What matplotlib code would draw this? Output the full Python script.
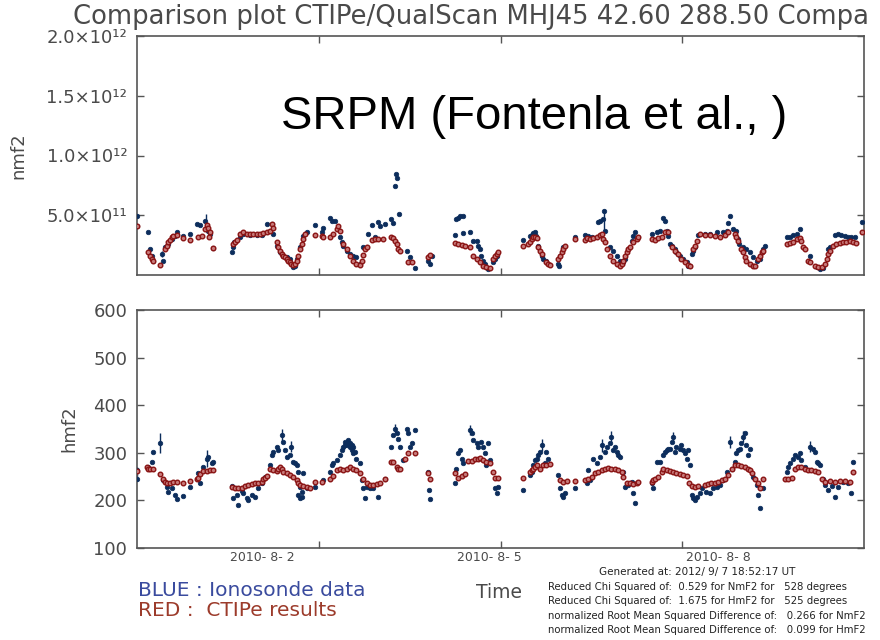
import numpy as np
import matplotlib
matplotlib.use("Agg")
import matplotlib.pyplot as plt

# ---------------------------------------------------------------- data
# time axis: hours since start of the comparison window
t_span = (0, 264)
frame_ticks = [66, 132, 198]
date_label_pos = [45.4, 127.8, 211.0]
date_labels = ["2010- 8- 2", "2010- 8- 5", "2010- 8- 8"]

nmf2_ticks = [5.0e11, 1.0e12, 1.5e12, 2.0e12]
nmf2_ticklabels = ["5.0×10¹¹", "1.0×10¹²", "1.5×10¹²", "2.0×10¹²"]
hmf2_ticks = [100, 200, 300, 400, 500, 600]

# NmF2 in units of 1e11 el/m^3 : (hour, value)
nmf2_ionosonde = [
    (0.1, 4.94), (0.1, 4.11), (4.1, 3.61), (4.7, 2.17), (5.3, 1.61), (5.9, 1.19), (9.0, 1.75), (9.6, 1.19),
    (10.2, 2.31), (11.4, 2.58), (12.6, 3.0), (13.8, 3.28), (14.4, 3.56), (16.8, 3.28), (19.2, 3.42),
    (21.7, 4.25), (22.9, 4.17), (24.7, 4.53), (25.3, 3.83), (25.9, 3.69), (26.5, 3.42), (27.7, 2.22),
    (34.4, 1.89), (35.0, 2.31), (35.2, 2.72), (37.4, 3.22), (38.6, 3.42), (41.0, 3.33), (43.4, 3.33),
    (45.3, 3.33), (47.1, 4.25), (49.2, 4.25), (49.5, 3.42),
    (50.7, 2.44), (51.9, 1.89), (53.1, 1.61), (54.3, 1.47), (55.5, 1.33), (56.7, 0.64), (57.4, 0.78),
    (58.0, 1.33), (59.2, 2.31), (60.4, 3.28), (61.6, 3.56),
    (64.6, 4.17), (67.6, 3.97), (67.0, 3.56), (70.1, 4.81), (70.7, 4.53), (71.9, 4.53), (73.7, 3.14), (74.3, 2.72),
    (74.9, 2.44), (76.1, 2.03), (77.3, 1.75), (78.5, 1.61), (79.7, 1.47), (80.9, 0.92), (82.2, 2.31), (83.4, 2.31),
    (84.0, 3.42), (85.2, 4.17), (86.4, 3.22), (87.6, 4.44), (88.2, 4.11), (90.0, 4.25), (92.4, 4.67), (93.0, 4.39),
    (93.7, 7.44), (94.3, 8.14), (93.9, 8.42), (95.2, 5.08),
    (97.9, 2.03), (99.1, 1.47), (100.9, 0.56),
    (105.8, 1.19), (106.4, 0.92), (107.0, 1.61),
    (116.0, 4.67), (116.6, 4.81), (117.2, 4.94), (118.5, 4.94), (115.4, 3.33), (118.5, 3.5), (120.9, 3.56),
    (122.1, 2.86), (123.3, 2.86), (123.9, 2.44), (124.5, 2.17), (125.1, 1.61), (125.7, 1.19), (126.3, 0.92),
    (126.9, 0.64), (127.5, 0.5), (129.3, 1.06), (130.0, 1.33), (130.6, 1.61),
    (140.3, 2.94), (142.7, 3.28), (143.3, 3.33), (143.9, 3.5), (144.5, 3.56), (144.9, 3.28), (145.7, 2.44),
    (146.9, 1.61), (147.5, 1.33), (148.7, 1.19), (153.0, 0.92), (153.3, 0.72), (153.6, 1.61), (154.8, 2.31),
    (159.0, 3.14), (162.7, 3.33), (163.9, 3.28), (165.1, 3.14), (167.5, 4.44), (168.1, 4.53), (169.3, 4.67),
    (169.6, 5.36), (169.9, 3.69),
    (171.7, 2.31), (172.9, 2.03), (174.2, 1.61), (175.4, 1.19), (176.6, 1.06), (177.2, 1.33), (178.4, 2.17),
    (179.6, 2.86), (180.2, 3.28), (180.8, 3.56), (182.0, 3.14),
    (186.9, 3.42), (188.7, 3.56), (189.9, 3.69), (191.1, 4.81), (191.7, 4.53), (192.3, 3.69), (192.9, 3.28),
    (193.5, 2.58), (194.1, 2.44), (195.3, 2.17), (195.9, 1.89), (197.1, 1.61), (198.4, 1.33), (199.6, 1.06),
    (200.2, 0.78), (200.8, 0.78), (201.4, 1.75), (202.0, 2.03), (202.6, 2.31), (203.8, 3.33),
    (206.2, 3.42), (208.0, 3.42), (210.5, 3.56), (212.9, 3.61), (214.1, 3.69), (214.7, 4.39), (215.3, 4.94),
    (216.5, 3.83), (217.7, 3.69), (218.3, 3.0), (218.7, 2.58),
    (220.1, 2.31), (221.3, 2.17), (222.6, 1.89), (223.8, 1.47), (225.0, 1.19), (226.2, 1.33), (227.4, 2.17),
    (228.0, 2.39),
    (235.9, 3.22), (237.1, 3.22), (238.3, 3.33), (239.5, 3.42), (240.7, 3.83), (244.3, 1.61),
    (246.8, 0.64), (248.0, 0.5), (249.2, 0.56), (251.0, 2.17), (251.6, 2.31), (253.4, 3.33), (254.6, 3.42),
    (255.8, 3.33), (257.0, 3.28), (258.2, 3.22), (259.4, 3.14), (260.6, 3.14), (263.1, 4.44),
]

nmf2_ctipe = [
    (0.1, 4.11), (4.1, 1.89), (4.7, 1.61), (5.3, 1.33), (5.9, 1.19), (8.3, 0.83), (10.2, 2.17), (10.8, 2.44),
    (11.4, 2.72), (12.0, 2.94), (12.6, 3.14), (13.2, 3.28), (14.4, 3.33), (16.8, 3.06), (19.2, 2.94),
    (22.3, 3.14), (23.5, 3.28), (24.7, 3.83), (25.3, 4.17), (25.9, 3.97), (26.5, 3.56), (26.3, 3.22), (27.7, 2.22),
    (35.0, 2.58), (35.6, 2.78), (36.2, 2.94), (37.4, 3.42), (38.6, 3.56), (39.8, 3.42), (41.0, 3.42),
    (42.2, 3.42), (43.4, 3.42), (44.6, 3.42), (45.9, 3.5), (47.1, 3.56), (48.3, 3.69), (48.9, 4.25), (49.5, 3.97),
    (50.7, 2.72), (51.3, 2.31), (51.9, 2.03), (52.5, 1.75), (53.1, 1.61), (53.7, 1.47), (54.3, 1.33),
    (54.9, 1.19), (55.5, 1.06), (56.1, 0.92), (56.7, 0.83), (57.4, 0.92), (58.0, 1.19), (58.6, 1.61),
    (59.2, 2.17), (59.8, 2.58), (60.4, 3.0), (61.0, 3.42),
    (64.6, 3.33), (67.0, 3.28), (67.6, 3.14),
    (70.1, 3.22), (71.3, 3.42), (72.5, 3.83), (73.1, 4.11), (73.7, 3.69),
    (74.9, 2.58), (76.1, 2.17), (77.3, 1.61), (78.5, 1.19), (79.7, 0.92), (80.9, 0.83), (81.6, 1.19),
    (82.2, 1.67), (82.8, 2.17), (83.4, 2.31),
    (85.2, 2.94), (86.4, 3.0), (87.6, 3.0), (89.4, 3.0), (92.4, 3.14), (93.0, 3.06), (93.7, 2.86), (94.3, 2.58),
    (94.9, 2.17), (95.5, 2.03), (98.5, 1.11), (99.7, 1.06), (105.8, 1.47), (106.4, 1.67),
    (115.4, 2.67), (116.6, 2.58), (117.9, 2.5), (119.1, 2.44), (120.9, 2.31), (122.1, 1.61), (123.3, 1.33),
    (124.5, 1.06), (125.7, 0.78), (126.9, 0.64), (128.1, 0.56),
    (129.3, 1.33), (130.0, 1.61), (130.6, 1.75), (131.2, 1.89),
    (140.3, 2.44), (142.1, 2.58), (142.7, 2.78), (143.3, 3.0), (143.9, 3.14), (144.5, 3.22), (145.1, 3.06),
    (145.7, 2.31), (146.3, 2.03), (146.9, 1.75), (148.7, 1.06), (149.3, 0.92), (149.9, 0.83),
    (153.0, 1.33), (153.6, 1.61), (154.2, 1.89), (154.8, 2.17), (155.4, 2.39),
    (159.0, 3.0), (162.7, 2.94), (163.3, 3.06), (164.5, 3.0), (165.7, 3.06), (166.9, 3.14), (168.1, 3.33),
    (168.7, 3.42), (169.3, 3.0), (169.9, 2.72), (170.5, 2.17),
    (171.7, 1.61), (172.9, 1.19), (174.2, 0.92), (175.4, 0.78), (176.0, 0.92), (176.6, 1.19), (177.2, 1.61),
    (177.8, 1.89), (178.4, 2.17), (179.0, 2.31), (180.2, 2.72), (181.4, 3.0), (182.0, 3.14),
    (186.9, 3.0), (188.1, 2.94), (189.3, 3.06), (190.5, 3.22), (191.7, 3.56), (192.9, 3.61),
    (194.1, 2.31), (195.3, 2.03), (196.5, 1.75), (197.7, 1.33), (199.0, 1.06), (200.2, 0.83), (200.8, 0.78),
    (202.0, 2.17), (202.6, 2.39), (203.2, 2.86), (204.4, 3.42),
    (206.2, 3.33), (208.0, 3.33), (209.8, 3.28), (211.7, 3.22), (213.5, 3.33), (214.7, 3.56),
    (217.1, 3.42), (217.7, 3.22), (218.3, 2.86),
    (219.5, 2.17), (220.1, 1.89), (220.7, 1.47), (221.3, 1.19), (222.6, 0.92), (223.8, 0.78), (224.4, 0.78),
    (225.6, 1.33), (226.2, 1.61), (226.8, 1.89), (227.4, 2.03),
    (235.9, 2.58), (237.1, 2.67), (238.3, 2.78), (239.5, 3.0), (240.7, 3.06), (241.3, 2.86), (241.9, 2.31),
    (242.5, 2.17), (243.7, 1.19), (244.3, 1.06),
    (246.2, 0.78), (247.4, 0.64), (248.6, 0.64), (249.8, 0.92), (250.4, 1.33), (251.0, 1.75), (251.6, 2.03),
    (252.8, 2.44), (254.0, 2.58), (255.2, 2.67), (256.4, 2.72), (257.6, 2.78), (258.8, 2.86), (260.0, 2.78),
    (261.2, 2.67), (263.1, 3.56),
]

# (hour, value, half-width) of the larger ionosonde error bars, 1e11 el/m^3
nmf2_ionosonde_err = [(9.0, 1.75, 0.25), (25.0, 4.45, 0.65), (169.6, 4.6, 0.95)]

# hmF2 in km : (hour, value)
hmf2_ionosonde = [
    (0.1, 264), (0.1, 246), (4.1, 271), (5.3, 281), (5.9, 302), (8.3, 320), (9.6, 243), (10.8, 229),
    (11.4, 218), (12.6, 225), (13.8, 211), (14.4, 202), (16.8, 210), (19.2, 229),
    (22.3, 257), (22.9, 236), (24.1, 271), (25.3, 288), (25.9, 292), (27.1, 278), (27.7, 281),
    (34.4, 230), (35.0, 204), (36.2, 211), (36.8, 190), (38.0, 220), (38.6, 215), (39.8, 206), (40.4, 201),
    (41.6, 211), (42.8, 208), (44.0, 225), (45.3, 236), (46.5, 250),
    (48.3, 274), (48.9, 295), (49.5, 302), (50.7, 313), (51.3, 306), (52.5, 337), (53.1, 323), (53.7, 306),
    (54.3, 292), (55.5, 295), (56.1, 313), (56.7, 281), (57.4, 278), (58.0, 274), (58.6, 260), (59.2, 229),
    (59.8, 218), (60.4, 258), (58.6, 211), (59.2, 204), (59.8, 208), (61.6, 227),
    (64.6, 229), (67.6, 243),
    (70.1, 260), (70.7, 274), (71.3, 278), (72.5, 285), (73.7, 295), (74.3, 306), (74.9, 313), (75.5, 323),
    (76.1, 316), (76.7, 321), (77.3, 313), (77.9, 306), (78.5, 299), (79.1, 302), (79.7, 288), (80.9, 278),
    (75.5, 316), (76.7, 327), (77.9, 316), (76.1, 320), (77.3, 320), (78.5, 313),
    (81.6, 243), (82.2, 225), (82.8, 204), (83.4, 229), (84.6, 225), (85.8, 225), (87.6, 208), (90.0, 245),
    (92.4, 313), (93.0, 337), (93.7, 351), (94.3, 341), (94.9, 330), (95.5, 313), (96.7, 285), (97.9, 351),
    (98.5, 341), (99.1, 313), (99.7, 320), (100.9, 348),
    (105.5, 260), (106.0, 222), (106.4, 203),
    (115.4, 237), (116.0, 267), (116.6, 299), (117.2, 306), (117.9, 288), (118.5, 278), (120.9, 348),
    (121.5, 341), (122.1, 327), (123.3, 320), (123.9, 313), (125.1, 323), (125.7, 313), (126.3, 299),
    (126.9, 274), (127.5, 320), (128.1, 285), (130.0, 225), (130.6, 215), (131.2, 229),
    (140.3, 222), (142.7, 253), (143.3, 260), (143.9, 274), (144.5, 285), (145.1, 288), (145.7, 295),
    (146.3, 302), (146.9, 316), (148.1, 278), (148.7, 302), (149.3, 288),
    (153.0, 253), (153.6, 225), (154.2, 211), (154.8, 208), (155.4, 215), (159.0, 225),
    (163.3, 236), (163.9, 264), (164.5, 243), (165.7, 288), (166.9, 278), (168.1, 292), (168.7, 316),
    (169.9, 302), (170.5, 313), (171.7, 320), (172.3, 334), (172.9, 306), (173.5, 313), (174.2, 302),
    (174.8, 295), (175.4, 292), (176.6, 260), (177.2, 229), (178.4, 232), (179.6, 239), (180.2, 215), (180.8, 194),
    (186.9, 236), (187.5, 225), (188.7, 281), (189.9, 281), (191.1, 295), (191.7, 302), (192.3, 306),
    (192.9, 309), (193.5, 309), (194.1, 323), (194.7, 334), (195.3, 302), (195.9, 313), (197.1, 309),
    (197.7, 316), (198.4, 306), (199.0, 299), (199.6, 288), (200.2, 306), (200.8, 274),
    (201.4, 211), (202.0, 204), (202.6, 201), (203.2, 208), (204.4, 215), (205.0, 227),
    (206.8, 218), (208.0, 215), (209.2, 225), (210.5, 229), (211.7, 232), (212.9, 243), (214.1, 260),
    (215.3, 323), (215.9, 267), (217.1, 281), (217.7, 299), (218.3, 306), (218.9, 309), (219.5, 320),
    (220.1, 334), (220.7, 341), (221.3, 316), (221.9, 295), (222.6, 309), (223.8, 250), (225.0, 232),
    (225.6, 211), (226.2, 183), (227.4, 227),
    (235.9, 260), (236.5, 271), (237.1, 278), (238.3, 288), (238.9, 295), (240.1, 292), (240.7, 299),
    (241.3, 285), (242.5, 271), (244.3, 313), (245.5, 309), (246.2, 302), (246.8, 281), (247.4, 278),
    (248.0, 274), (249.2, 246), (249.8, 232), (251.0, 222), (252.2, 230), (253.4, 208), (254.6, 229),
    (256.4, 239), (258.2, 236), (259.4, 216), (260.0, 281),
]

hmf2_ctipe = [
    (0.1, 262), (3.5, 271), (4.1, 267), (4.7, 267), (5.9, 266), (8.3, 255), (9.6, 246), (10.2, 239),
    (10.8, 236), (12.0, 237), (13.2, 239), (14.4, 239), (16.8, 236), (19.2, 241),
    (21.7, 246), (22.3, 248), (22.9, 255), (24.1, 262), (25.3, 262), (26.5, 264), (27.7, 264),
    (34.4, 229), (35.6, 227), (36.8, 227), (38.0, 227), (39.2, 230), (40.4, 232), (41.6, 234), (42.8, 236),
    (44.0, 236), (45.3, 239), (45.9, 244), (46.5, 248), (47.1, 251),
    (48.3, 265), (49.5, 264), (50.7, 262), (51.3, 267), (51.9, 271), (52.5, 265), (53.1, 260), (54.3, 257),
    (55.5, 253), (56.7, 250), (58.0, 243), (58.6, 236), (59.2, 232), (60.4, 230), (61.6, 229), (62.8, 227),
    (64.6, 239), (67.0, 239),
    (70.1, 246), (71.3, 251), (72.5, 264), (73.7, 265), (74.9, 264), (76.1, 267), (77.3, 271), (78.5, 267),
    (79.7, 264), (80.9, 257), (82.2, 246), (83.4, 236), (84.6, 232), (85.8, 232), (87.0, 234), (88.2, 237),
    (90.0, 244),
    (92.4, 281), (93.0, 281), (94.3, 271), (94.9, 267), (95.5, 267), (97.3, 288), (98.5, 299), (100.9, 300),
    (105.8, 257), (106.4, 246),
    (115.4, 258), (116.6, 248), (117.9, 251), (119.1, 255), (120.3, 283), (121.5, 283), (122.7, 286),
    (123.9, 288), (124.5, 290), (125.7, 285), (126.9, 281), (128.1, 279),
    (129.3, 260), (130.0, 248), (131.2, 248),
    (140.3, 248), (142.7, 260), (143.3, 264), (143.9, 267), (144.5, 271), (145.1, 274), (146.3, 265),
    (147.5, 274), (148.7, 274), (149.9, 276),
    (153.6, 243), (154.8, 239), (156.0, 241), (159.0, 241),
    (162.7, 243), (163.9, 246), (165.1, 250), (166.3, 257), (167.5, 260), (168.7, 264), (169.9, 267),
    (171.1, 269), (172.3, 267), (173.5, 265), (174.8, 264), (176.0, 260), (176.6, 250), (177.8, 237),
    (179.0, 236), (180.2, 234), (181.4, 237), (182.0, 239),
    (186.9, 239), (187.5, 243), (188.1, 244), (189.3, 250), (190.5, 260), (191.1, 267), (192.3, 264),
    (193.5, 262), (194.7, 260), (195.9, 258), (197.1, 255), (198.4, 253), (199.6, 251), (200.5, 236),
    (201.4, 230), (202.6, 229), (203.8, 230),
    (206.2, 232), (207.4, 234), (208.6, 236), (209.8, 237), (211.1, 239), (212.3, 243), (213.5, 246),
    (214.7, 253), (215.9, 267), (217.1, 274), (218.3, 274), (219.5, 272), (220.7, 271), (221.9, 267),
    (222.6, 264), (223.2, 257), (224.4, 246), (225.6, 236), (226.2, 227), (227.4, 244),
    (235.3, 244), (236.5, 246), (237.7, 248), (238.9, 267), (240.1, 271), (241.3, 271), (242.5, 267),
    (243.7, 264), (244.9, 264), (246.2, 262), (247.4, 260), (248.6, 244), (249.8, 239), (251.6, 241),
    (253.4, 239), (255.2, 241), (257.0, 241), (258.8, 239), (260.0, 260),
]

hmf2_ionosonde_err = [
    (0.1, 255, 15), (8.3, 320, 21), (25.3, 288, 17), (52.5, 337, 12), (56.1, 313, 12), (93.7, 351, 10),
    (120.9, 348, 10), (146.9, 316, 12), (168.7, 316, 14), (172.3, 334, 12), (194.7, 334, 10),
    (215.3, 323, 12), (220.1, 334, 12), (244.3, 313, 12),
]

stats_lines = [
    "Generated at: 2012/ 9/ 7 18:52:17 UT",
    "Reduced Chi Squared of:  0.529 for NmF2 for   528 degrees",
    "Reduced Chi Squared of:  1.675 for HmF2 for   525 degrees",
    "normalized Root Mean Squared Difference of:   0.266 for NmF2",
    "normalized Root Mean Squared Difference of:   0.099 for HmF2",
]

# ---------------------------------------------------------------- style
NAVY = "#0c2d5c"
DRED = "#8a1414"
PINK = "#c77a7a"
AXC = "#555555"
TXT = "#4a4a4a"

plt.rcParams["font.family"] = ["DejaVu Sans"]

fig = plt.figure(figsize=(8.8, 6.4), dpi=100)
W, H = 880.0, 640.0
ax_top = fig.add_axes([137 / W, 1 - 275 / H, 727 / W, 239 / H])
ax_bot = fig.add_axes([137 / W, 1 - 548 / H, 727 / W, 238 / H])


def style_axes(ax):
    for sp in ax.spines.values():
        sp.set_color(AXC)
        sp.set_linewidth(1.2)
    ax.tick_params(direction="in", length=5, width=1.0, color=AXC,
                   top=True, right=True, labelcolor=TXT, labelsize=13, pad=7)
    ax.set_xlim(*t_span)
    ax.set_xticks(frame_ticks)
    ax.set_xticklabels([])


def draw_series(ax, obs, model, errs, scale=1.0):
    o = np.array(obs, dtype=float)
    m = np.array(model, dtype=float)
    e = np.array(errs, dtype=float)
    ax.errorbar(e[:, 0], e[:, 1] * scale, yerr=e[:, 2] * scale, fmt="none",
                ecolor=NAVY, elinewidth=1.0, capsize=0, zorder=2)
    ax.plot(o[:, 0], o[:, 1] * scale, "o", ms=3.3, color=NAVY, mec=NAVY,
            mew=0.5, zorder=3, clip_on=True)
    ax.plot(m[:, 0], m[:, 1] * scale, "o", ms=3.3, mfc=PINK, mec=DRED,
            mew=1.0, zorder=4, clip_on=True)


# top panel: NmF2
style_axes(ax_top)
draw_series(ax_top, nmf2_ionosonde, nmf2_ctipe, nmf2_ionosonde_err, scale=1e11)
ax_top.set_ylim(0, 2.0e12)
ax_top.set_yticks(nmf2_ticks)
ax_top.set_yticklabels(nmf2_ticklabels)
ax_top.set_ylabel("nmf2", fontsize=13, color=TXT)
ax_top.yaxis.set_label_coords(-0.151, 0.5)

# bottom panel: hmF2
style_axes(ax_bot)
draw_series(ax_bot, hmf2_ionosonde, hmf2_ctipe, hmf2_ionosonde_err)
ax_bot.set_ylim(100, 600)
ax_bot.set_yticks(hmf2_ticks)
ax_bot.set_yticklabels([str(v) for v in hmf2_ticks])
ax_bot.set_ylabel("hmf2", fontsize=13, color=TXT)
ax_bot.yaxis.set_label_coords(-0.081, 0.5)

# date labels under the bottom frame
for pos, lab in zip(date_label_pos, date_labels):
    ax_bot.text(pos, -0.04, lab, transform=ax_bot.get_xaxis_transform(),
                ha="center", va="center", fontsize=9, color=TXT)

# header and annotations
fig.text(73 / W, 1 - 24 / H, "Comparison plot CTIPe/QualScan MHJ45 42.60 288.50 Compa",
         ha="left", va="baseline", fontsize=18.6, color=TXT)
fig.text(281 / W, 1 - 129 / H, "SRPM (Fontenla et al., )", ha="left", va="baseline",
         fontsize=34, color="black", family="Liberation Sans")

fig.text(138 / W, 1 - 591 / H, "BLUE : Ionosonde data", ha="left", va="center",
         fontsize=14.5, color="#3a4b9e")
fig.text(138 / W, 1 - 611 / H, "RED :  CTIPe results", ha="left", va="center",
         fontsize=14.5, color="#9c3b2b")
fig.text(476 / W, 1 - 593 / H, "Time", ha="left", va="center", fontsize=13.5, color=TXT)

fig.text(697 / W, 1 - 572 / H, stats_lines[0], ha="center", va="center",
         fontsize=7.5, color="#222222")
for i, line in enumerate(stats_lines[1:]):
    fig.text(548 / W, 1 - (587 + 14.3 * i) / H, line, ha="left", va="center",
             fontsize=7.3, color="#222222")

fig.savefig("out.png", dpi=100, facecolor="white")
